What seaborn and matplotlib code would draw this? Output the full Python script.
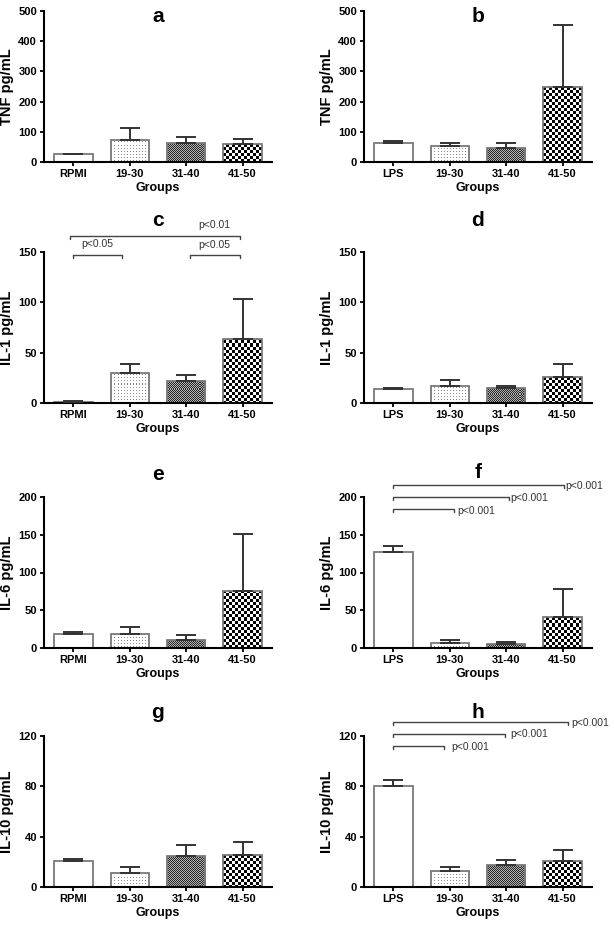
import numpy as np
import matplotlib
matplotlib.use('Agg')
import matplotlib.pyplot as plt
import seaborn as sns

# groups
groups_rpmi = ['RPMI', '19-30', '31-40', '41-50']
groups_lps = ['LPS', '19-30', '31-40', '41-50']

# means and upper SD
tnf_rpmi = [26, 74, 62, 58]
tnf_rpmi_sd = [2, 37, 22, 17]
tnf_lps = [64, 52, 48, 247]
tnf_lps_sd = [5, 12, 14, 208]

il1_rpmi = [1.3, 30, 22, 64]
il1_rpmi_sd = [0.8, 8.5, 6, 39]
il1_lps = [14, 16.6, 15, 25.5]
il1_lps_sd = [1, 6.5, 2, 13]

il6_rpmi = [18.5, 18, 10, 75.5]
il6_rpmi_sd = [2.2, 9.4, 7.7, 75.5]
il6_lps = [126.7, 7, 5, 41.5]
il6_lps_sd = [8, 4, 3.4, 37]

il10_rpmi = [20.7, 11.4, 25, 25.8]
il10_rpmi_sd = [1.3, 4.5, 8.2, 10]
il10_lps = [80.4, 12.7, 17.3, 21]
il10_lps_sd = [4.3, 3, 3.9, 8.2]

# significance brackets: (x_start, x_end, y, label, text_x, text_y, align)
brackets_c = [(0.0, 0.87, 146.7, 'p<0.05', 0.42, 158, 'center'),
              (2.07, 2.96, 146.7, 'p<0.05', 2.5, 157, 'center'),
              (-0.06, 2.96, 165.6, 'p<0.01', 2.5, 176.5, 'center')]
brackets_f = [(0.0, 1.07, 184.5, 'p<0.001', 1.13, 182, 'left'),
              (0.0, 2.05, 200, 'p<0.001', 2.07, 199, 'left'),
              (0.0, 3.03, 215.4, 'p<0.001', 3.05, 215, 'left')]
brackets_h = [(0.0, 0.9, 112, 'p<0.001', 1.03, 111, 'left'),
              (0.0, 1.97, 121.6, 'p<0.001', 2.07, 121.6, 'left'),
              (0.0, 3.1, 131.4, 'p<0.001', 3.15, 130.5, 'left')]

sns.set_style('ticks')
plt.rcParams['font.family'] = ['Liberation Sans', 'DejaVu Sans']
plt.rcParams['text.color'] = 'black'
plt.rcParams['axes.labelcolor'] = 'black'

W, H = 614, 926
fig = plt.figure(figsize=(W / 100, H / 100), dpi=100)

patterns = [None, 'dots', 'fine', 'coarse']


def fill_pattern(ax, patch, kind):
    x0, y0 = patch.get_x(), patch.get_y()
    w, h = patch.get_width(), patch.get_height()
    (px0, py0), (px1, py1) = ax.transData.transform([(x0, y0), (x0 + w, y0 + h)])
    # snap to whole pixels so the pattern maps 1:1
    px0, py0, px1, py1 = np.floor(px0), np.floor(py0), np.ceil(px1), np.ceil(py1)
    nx = max(int(px1 - px0), 1)
    ny = max(int(py1 - py0), 1)
    (dx0, dy0), (dx1, dy1) = ax.transData.inverted().transform([(px0, py0), (px0 + nx, py0 + ny)])
    yy, xx = np.mgrid[0:ny, 0:nx]
    if kind == 'dots':
        img = np.where((xx % 3 == 1) & (yy % 3 == 1), 0.55, 1.0)
    elif kind == 'fine':
        img = np.where((xx + yy) % 2 == 0, 0.15, 0.7)
    else:
        img = np.where(((xx // 3) + (yy // 3)) % 2 == 0, 0.0, 1.0)
    im = ax.imshow(img, cmap='gray', vmin=0, vmax=1, origin='lower',
                   extent=[dx0, dx1, dy0, dy1], interpolation='nearest',
                   aspect='auto', zorder=0.9)
    im.set_clip_path(patch)


def panel(rect_px, groups, means, sds, ymax, ystep, ylabel, letter, title_y,
          brackets=None):
    left, top, width, height = rect_px
    ax = fig.add_axes([left / W, 1 - (top + height) / H, width / W, height / H])
    sns.barplot(x=groups, y=means, ax=ax, color='white', edgecolor='#7a7a7a',
                linewidth=1.3, width=0.68, errorbar=None, saturation=1)
    ax.set_xlim(-0.52, 3.52)
    ax.set_ylim(0, ymax)
    ax.errorbar(range(len(groups)), means, yerr=[np.zeros(len(means)), sds],
                fmt='none', ecolor='#333333', elinewidth=1.4, capsize=7,
                capthick=1.4, zorder=3)
    for patch, kind in zip(ax.patches, patterns):
        patch.set_zorder(2)
        if kind is not None:
            patch.set_facecolor('none')
            fill_pattern(ax, patch, kind)
    ax.set_xlim(-0.52, 3.52)
    ax.set_ylim(0, ymax)
    ax.set_yticks(np.arange(0, ymax + 1, ystep))
    sns.despine(ax=ax)
    for s in ['left', 'bottom']:
        ax.spines[s].set_linewidth(1.5)
        ax.spines[s].set_color('black')
    ax.tick_params(width=1.3, length=3, labelsize=8, pad=2, colors='black')
    for lab in ax.get_xticklabels() + ax.get_yticklabels():
        lab.set_fontweight('bold')
    ax.set_xlabel('Groups', fontsize=9, fontweight='bold', labelpad=2)
    ax.set_ylabel(ylabel, fontsize=10.5, fontweight='bold', labelpad=3)
    fig.text((left + width / 2) / W, 1 - title_y / H, letter, fontsize=15,
             fontweight='bold', ha='center', va='center', color='black')
    if brackets:
        tick = 0.02 * ymax
        for x0, x1, y, label, tx, ty, ha in brackets:
            ax.plot([x0, x0, x1, x1], [y - tick, y, y, y - tick], color='#444444',
                    lw=1.0, clip_on=False)
            ax.text(tx, ty, label, fontsize=7.5, color='#333333', ha=ha,
                    va='center', clip_on=False)
    return ax


L1, L2, AW, AH = 44, 364, 228, 151
panel((L1, 11, AW, AH), groups_rpmi, tnf_rpmi, tnf_rpmi_sd, 500, 100, 'TNF pg/mL', 'a', 16)
panel((L2, 11, AW, AH), groups_lps, tnf_lps, tnf_lps_sd, 500, 100, 'TNF pg/mL', 'b', 16)
panel((L1, 252, AW, AH), groups_rpmi, il1_rpmi, il1_rpmi_sd, 150, 50, 'IL-1 pg/mL', 'c', 221,
      brackets_c)
panel((L2, 252, AW, AH), groups_lps, il1_lps, il1_lps_sd, 150, 50, 'IL-1 pg/mL', 'd', 220)
panel((L1, 497, AW, AH), groups_rpmi, il6_rpmi, il6_rpmi_sd, 200, 50, 'IL-6 pg/mL', 'e', 475)
panel((L2, 497, AW, AH), groups_lps, il6_lps, il6_lps_sd, 200, 50, 'IL-6 pg/mL', 'f', 473,
      brackets_f)
panel((L1, 736, AW, AH), groups_rpmi, il10_rpmi, il10_rpmi_sd, 120, 40, 'IL-10 pg/mL', 'g', 713)
panel((L2, 736, AW, AH), groups_lps, il10_lps, il10_lps_sd, 120, 40, 'IL-10 pg/mL', 'h', 713,
      brackets_h)

fig.savefig('out.png', dpi=100, facecolor='white')
